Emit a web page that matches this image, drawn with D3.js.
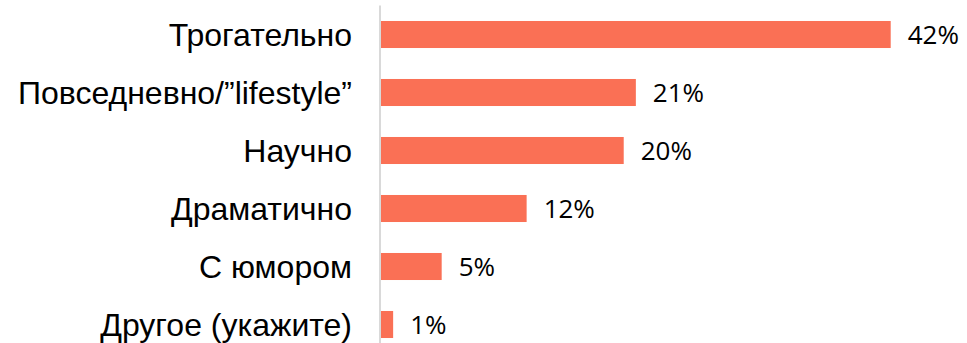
<!DOCTYPE html>
<html>
<head>
<meta charset="utf-8">
<script src="https://cdn.jsdelivr.net/npm/d3@7"></script>
<style>
  html, body { margin: 0; padding: 0; background: #fff; }
  svg { display: block; }
</style>
</head>
<body>
<svg id="chart" width="967" height="343"></svg>
<script>
// Survey answers, in display order, with their shares in percent
const categories = ["Трогательно", "Повседневно/”lifestyle”", "Научно", "Драматично", "С юмором", "Другое (укажите)"];
const shares = [42, 21, 20, 12, 5, 1];
const valueLabels = ["42%", "21%", "20%", "12%", "5%", "1%"];

const rows = categories.map((c, i) => ({ category: c, value: shares[i], label: valueLabels[i] }));

const svg = d3.select("#chart");

const x = d3.scaleLinear().domain([0, 42]).range([381, 890.7]);
const y = d3.scaleBand()
  .domain(categories)
  .range([5.5, 353.5])
  .paddingInner(0.534)
  .paddingOuter(0.267);

// Vertical baseline
svg.append("line")
  .attr("x1", 380).attr("x2", 380)
  .attr("y1", y.range()[0]).attr("y2", y.range()[1])
  .attr("stroke", "#d9d9d9")
  .attr("stroke-width", 2);

// Bars
svg.append("g").selectAll("rect")
  .data(rows)
  .join("rect")
  .attr("x", x(0))
  .attr("y", d => y(d.category))
  .attr("width", d => x(d.value) - x(0))
  .attr("height", y.bandwidth())
  .attr("fill", "#fa7055");

// Category labels
const yAxis = d3.axisLeft(y).tickSize(0).tickPadding(0);
const ga = svg.append("g")
  .attr("transform", "translate(352,0)")
  .call(yAxis);
ga.select(".domain").remove();
ga.selectAll("text")
  .attr("font-family", "'Liberation Sans', Arial, sans-serif")
  .attr("font-size", 32)
  .attr("fill", "#000")
  .attr("dy", "0.35em");

// Value labels
svg.append("g").selectAll("text")
  .data(rows)
  .join("text")
  .attr("x", d => x(d.value) + 17)
  .attr("y", d => y(d.category) + y.bandwidth() / 2)
  .attr("dy", "0.36em")
  .attr("font-family", "'Open Sans', sans-serif")
  .attr("font-size", 26)
  .attr("fill", "#000")
  .text(d => d.label);
</script>
</body>
</html>
